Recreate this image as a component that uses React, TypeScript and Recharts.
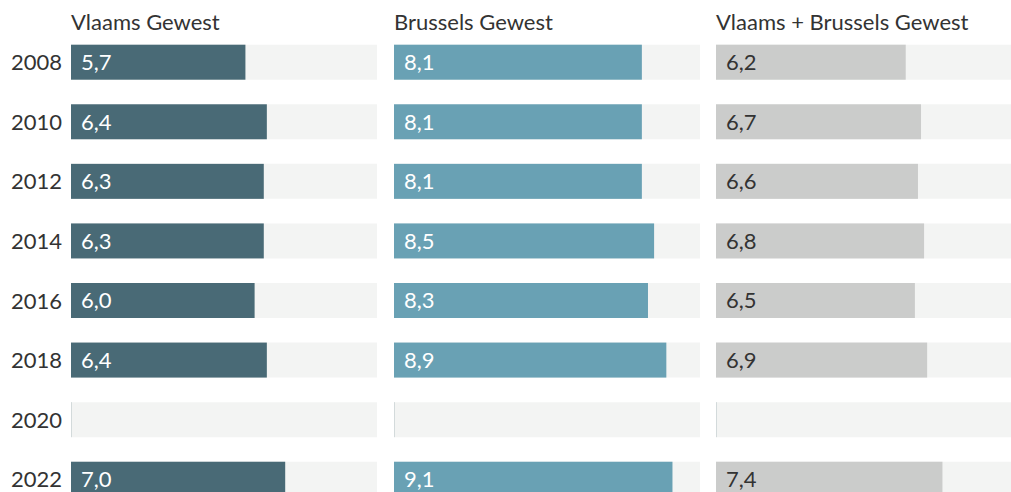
import { Bar, BarChart, LabelList, XAxis, YAxis } from 'recharts';

const years = ['2008', '2010', '2012', '2014', '2016', '2018', '2020', '2022'];
const vlaams = [5.7, 6.4, 6.3, 6.3, 6.0, 6.4, null, 7.0];
const brussels = [8.1, 8.1, 8.1, 8.5, 8.3, 8.9, null, 9.1];
const combined = [6.2, 6.7, 6.6, 6.8, 6.5, 6.9, null, 7.4];

const panels = [
  { title: 'Vlaams Gewest', values: vlaams, color: '#496a76', text: '#ffffff' },
  { title: 'Brussels Gewest', values: brussels, color: '#69a1b4', text: '#ffffff' },
  { title: 'Vlaams + Brussels Gewest', values: combined, color: '#cbcccb', text: '#333333' },
];

const FONT = 'Lato, "Open Sans", sans-serif';
const fmt = (v: any) => (v == null ? '' : Number(v).toFixed(1).replace('.', ','));

// empty years get a thin line at the start of the track
const BarShape = (props: any) => {
  const { x, y, width, height, fill, payload } = props;
  if (payload?.raw == null) {
    return <rect x={x} y={y} width={1} height={height} fill="#d3dadb" />;
  }
  return <rect x={x} y={y} width={width} height={height} fill={fill} />;
};

const Panel = ({ idx }: { idx: number }) => {
  const p = panels[idx];
  const data = years.map((year, i) => ({ year, value: p.values[i] ?? 0, raw: p.values[i] }));
  const first = idx === 0;
  const left = first ? 0 : idx === 1 ? 394 : 716;
  const width = first ? 377 : 306;
  return (
    <div style={{ position: 'absolute', left, top: 0, width, height: 520 }}>
      <div
        style={{
          position: 'absolute',
          left: first ? 71 : 0,
          top: 9,
          fontFamily: FONT,
          fontSize: 22,
          lineHeight: '26px',
          color: '#333333',
          whiteSpace: 'nowrap',
        }}
      >
        {p.title}
      </div>
      <BarChart
        width={width}
        height={520}
        data={data}
        layout="vertical"
        margin={{ top: 32.7, right: 0, bottom: 10.7, left: 0 }}
      >
        <XAxis type="number" domain={[0, 10]} hide />
        <YAxis
          type="category"
          dataKey="year"
          hide={!first}
          width={71}
          axisLine={false}
          tickLine={false}
          tickSize={0}
          tickMargin={9}
          tick={{ fill: '#333333', fontSize: 22, fontFamily: FONT }}
        />
        <Bar
          dataKey="value"
          fill={p.color}
          barSize={35}
          background={{ fill: '#f3f4f3' }}
          shape={BarShape}
          isAnimationActive={false}
        >
          <LabelList
            dataKey="raw"
            position="insideLeft"
            offset={10}
            formatter={fmt}
            fill={p.text}
            fontSize={22}
            fontFamily={FONT}
          />
        </Bar>
      </BarChart>
    </div>
  );
};

const App = () => (
  <div
    style={{
      position: 'absolute',
      left: 0,
      top: 0,
      width: 1011,
      height: 492,
      overflow: 'hidden',
      background: '#ffffff',
    }}
  >
    <Panel idx={0} />
    <Panel idx={1} />
    <Panel idx={2} />
  </div>
);

export default App;
